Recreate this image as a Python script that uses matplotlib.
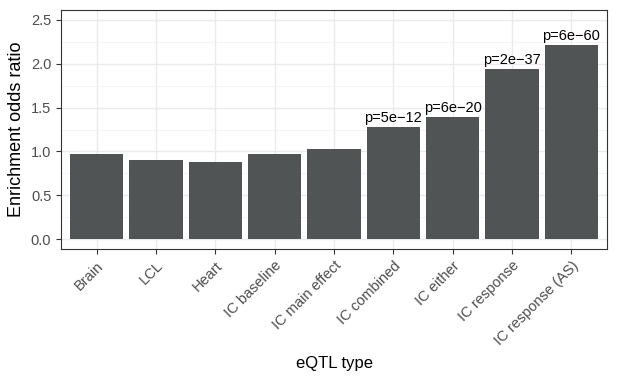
import matplotlib
matplotlib.use("Agg")
import matplotlib.pyplot as plt
import numpy as np

plt.rcParams['font.family'] = ['Liberation Sans', 'DejaVu Sans']

categories = ["Brain", "LCL", "Heart", "IC baseline", "IC main effect",
              "IC combined", "IC either", "IC response", "IC response (AS)"]
values = [0.97, 0.90, 0.88, 0.97, 1.03, 1.28, 1.39, 1.94, 2.21]
pvals = [None, None, None, None, None, "p=5e\u221212", "p=6e\u221220", "p=2e\u221237", "p=6e\u221260"]
yticks = [0.0, 0.5, 1.0, 1.5, 2.0, 2.5]

fig = plt.figure(figsize=(6.17, 3.80), dpi=100)
ax = fig.add_axes([61/617, 1-249/380, (607-61)/617, (249-10)/380])
x = np.arange(len(categories))
ax.bar(x, values, width=0.9, color="#505455", zorder=3)
for xi, v, p in zip(x, values, pvals):
    if p:
        ax.text(xi, v + 0.02, p, ha="center", va="bottom", fontsize=10.5, color="black", zorder=4)

ax.set_xlim(-0.6, 8.6)
ax.set_ylim(-0.11, 2.61)
ax.set_yticks(yticks)
ax.set_yticklabels([f"{t:.1f}" for t in yticks])
ax.set_yticks(np.arange(0.25, 2.6, 0.5), minor=True)
ax.set_xticks(x)
ax.set_xticklabels(categories, rotation=45, ha="right", rotation_mode="anchor")
ax.grid(True, which="major", color="#ebebeb", linewidth=1.0, zorder=0)
ax.grid(True, which="minor", axis="y", color="#f2f2f2", linewidth=0.6, zorder=0)
ax.tick_params(axis="both", which="major", labelsize=10.5, labelcolor="#4d4d4d",
               color="#333333", length=3.5, width=0.8)
ax.tick_params(axis="both", which="minor", length=0)
for s in ax.spines.values():
    s.set_color("#333333")
    s.set_linewidth(0.8)
ax.set_ylabel("Enrichment odds ratio", fontsize=13, color="black", labelpad=4)
ax.set_xlabel("eQTL type", fontsize=12, color="black", labelpad=6)
fig.savefig("out.png", dpi=100)
